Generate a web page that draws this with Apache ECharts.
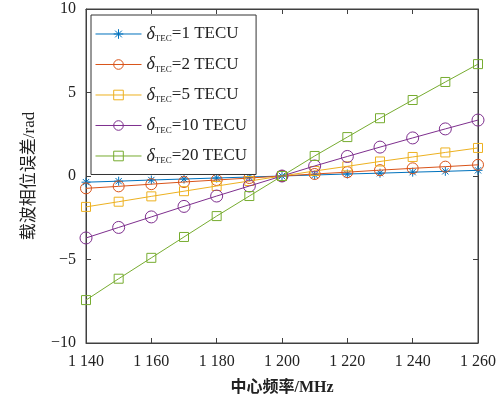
<!DOCTYPE html>
<html>
<head>
<meta charset="utf-8">
<script src="https://cdn.jsdelivr.net/npm/echarts@6/dist/echarts.min.js"></script>
<style>
  html, body { margin: 0; padding: 0; background: #fff; }
  #chart { width: 499px; height: 404px; }
</style>
</head>
<body>
<div id="chart"></div>
<script>
// centre frequency, MHz
var freqs = [1140, 1150, 1160, 1170, 1180, 1190, 1200, 1210, 1220, 1230, 1240, 1250, 1260];
// carrier phase error (rad) per TEC error
var tec1  = [-0.37, -0.31, -0.24, -0.18, -0.12, -0.06, 0, 0.06, 0.12, 0.17, 0.23, 0.28, 0.34];
var tec2  = [-0.74, -0.62, -0.49, -0.36, -0.24, -0.12, 0, 0.12, 0.23, 0.35, 0.46, 0.56, 0.67];
var tec5  = [-1.85, -1.54, -1.22, -0.91, -0.60, -0.30, 0, 0.30, 0.58, 0.87, 1.14, 1.41, 1.68];
var tec10 = [-3.71, -3.08, -2.45, -1.82, -1.20, -0.60, 0, 0.60, 1.17, 1.73, 2.28, 2.82, 3.35];
var tec20 = [-7.43, -6.15, -4.90, -3.65, -2.40, -1.20, 0, 1.20, 2.33, 3.46, 4.55, 5.63, 6.70];
var tecLabels = ['1', '2', '5', '10', '20'];

var serif = '"Liberation Serif", "Noto Sans CJK SC", serif';
var axisColor = '#404040';

function pairs(ys) {
  return freqs.map(function (f, i) { return [f, ys[i]]; });
}

var star = 'path://M5,0L5,10M0,5L10,5M1.5,1.5L8.5,8.5M1.5,8.5L8.5,1.5';

// MATLAB style hollow markers: transparent fill, thin outline
function mk(idx, ys, color, symbol, size) {
  return {
    name: 'tec' + tecLabels[idx],
    type: 'line',
    xAxisIndex: 0,
    yAxisIndex: 0,
    data: pairs(ys),
    symbol: symbol,
    symbolSize: size,
    showAllSymbol: true,
    lineStyle: { color: color, width: 1 },
    itemStyle: { color: 'rgba(255,255,255,0)', borderColor: color, borderWidth: 1 },
    emphasis: { disabled: true },
    z: 2 + idx
  };
}

var chart = echarts.init(document.getElementById('chart'));

var commonX = {
  type: 'value', min: 1140, max: 1260, interval: 20,
  axisLine: { show: true, onZero: false, lineStyle: { color: axisColor } },
  axisTick: { show: true, inside: true, length: 5, lineStyle: { color: axisColor } },
  splitLine: { show: false }
};
var commonY = {
  type: 'value', min: -10, max: 10, interval: 5,
  axisLine: { show: true, onZero: false, lineStyle: { color: axisColor } },
  axisTick: { show: true, inside: true, length: 5, lineStyle: { color: axisColor } },
  splitLine: { show: false }
};

chart.setOption({
  animation: false,
  backgroundColor: '#fff',
  grid: {
    show: true, borderColor: axisColor, borderWidth: 1,
    left: 86, right: 14, top: 9, bottom: 61, containLabel: false
  },
  legend: {
    orient: 'vertical',
    left: 91,
    top: 15,
    itemWidth: 46,
    itemHeight: 12,
    itemGap: 12,
    padding: [10, 9, 9, 4],
    borderColor: '#333',
    borderWidth: 1,
    backgroundColor: '#fff',
    itemStyle: { borderWidth: 1 },
    lineStyle: { width: 1 },
    data: ['tec1', 'tec2', 'tec5', 'tec10', 'tec20'],
    formatter: function (name) {
      return '{d|δ}{s|TEC}{n|=' + name.slice(3) + ' TECU}';
    },
    textStyle: {
      rich: {
        d: { fontFamily: serif, fontStyle: 'italic', fontSize: 18, color: '#222' },
        s: { fontFamily: serif, fontSize: 9, color: '#222', padding: [10, 0, 0, 0] },
        n: { fontFamily: serif, fontSize: 17, color: '#222' }
      }
    }
  },
  xAxis: [
    Object.assign({}, commonX, {
      position: 'bottom',
      axisLabel: {
        fontFamily: serif, fontSize: 16, color: '#222', margin: 11,
        formatter: function (v) { return String(v).replace(/^(\d)(\d{3})$/, '$1 $2'); }
      },
      name: '中心频率/MHz',
      nameLocation: 'middle',
      nameGap: 37,
      nameTextStyle: { fontFamily: serif, fontSize: 16, fontWeight: 'bold', color: '#222' }
    }),
    Object.assign({}, commonX, { position: 'top', axisLabel: { show: false } })
  ],
  yAxis: [
    Object.assign({}, commonY, {
      position: 'left',
      axisLabel: {
        fontFamily: serif, fontSize: 16, color: '#222', margin: 10,
        formatter: function (v) { return v < 0 ? '\u2212' + Math.abs(v) : String(v); }
      },
      name: '载波相位误差/rad',
      nameLocation: 'middle',
      nameGap: 48,
      nameTextStyle: { fontFamily: serif, fontSize: 17, color: '#222' }
    }),
    Object.assign({}, commonY, { position: 'right', axisLabel: { show: false } })
  ],
  series: [
    mk(0, tec1, '#0072BD', star, 9),
    mk(1, tec2, '#D95319', 'circle', 11),
    mk(2, tec5, '#EDB120', 'rect', 9),
    mk(3, tec10, '#7E2F8E', 'circle', 12),
    mk(4, tec20, '#77AC30', 'rect', 9)
  ]
});
</script>
</body>
</html>
